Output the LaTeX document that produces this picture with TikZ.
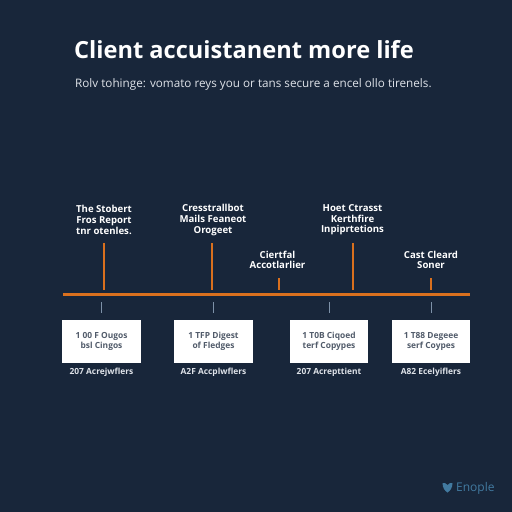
\documentclass[tikz,border=0pt]{standalone}
\usepackage{fontspec}
\setmainfont{Open Sans}
\usepackage{xcolor}
\usetikzlibrary{math}
\definecolor{mybg}{RGB}{24,38,58}
\definecolor{myorange}{RGB}{217,112,30}
\definecolor{mygray}{RGB}{125,145,168}
\definecolor{mytext}{RGB}{222,226,232}
\definecolor{myblue}{RGB}{66,122,160}
\tikzset{
label/.style={text=white,font=\fontsize{9.6}{10.6}\selectfont\bfseries,align=center,inner sep=0},
stem/.style={color=myorange,line width=1.5},
tick/.style={color=mygray,line width=1},
card/.style={fill=white,draw=none,minimum width=78.5,minimum height=43,inner sep=0,align=center,text=mybg!75,font=\fontsize{8.4}{10}\selectfont\bfseries},
caption/.style={text=mytext,font=\fontsize{8.4}{9}\selectfont\bfseries,inner sep=0},
}

\begin{document}
\begin{tikzpicture}[x=1pt,y=-1pt]
\tikzmath{
\W=512;
\Y=294.5;
}
\fill[mybg] (0,0) rectangle (\W,\W);
\useasboundingbox (0,0) rectangle (\W,\W);

\node[anchor=base west,text=white,inner sep=0,font=\fontsize{23.6}{28}\selectfont\bfseries] (title) at (74,58){Client accuistanent more life};
\node[anchor=base west,text=mytext,inner sep=0,font=\fontsize{11.7}{12}\selectfont] (subtitle) at (75,87){Rolv tohinge: vomato reys you or tans secure a encel ollo tirenels.};

\coordinate (start) at (63,\Y);
\coordinate (end) at (470,\Y);
\draw[color=myorange,line width=3] (start) -- (end);

\foreach \name/\x/\top in {a/104/243,b/212/243,c/279/278,d/353/243,e/431/278}{
\coordinate (\name top) at (\x,\top);
\coordinate (\name bot) at (\x,290);
\draw[stem] (\name top) -- (\name bot);
}

\node[label] (la) at (104,220){The Stobert\\Fros Report\\tnr otenles.};
\node[label] (lb) at (213,220){Cresstrallbot\\Mails Feaneot\\Orogeet};
\node[label] (lc) at (277.5,260){Ciertfal\\Accotlarlier};
\node[label] (ld) at (352.5,220){Hoet Ctrasst\\Kerthfire\\Inpiprtetions};
\node[label] (le) at (431,260){Cast Cleard\\Soner};

\foreach \name/\x/\tx/\one/\two/\three in {
a/101.5/101.5/1 00 F Ougos/bsl Cingos/207 Acrejwflers,
b/213.5/213.5/1 TFP Digest/of Fledges/A2F Accplwflers,
c/329/329/1 T0B Ciqoed/terf Copypes/207 Acrepttient,
d/431/431/1 T88 Degeee/serf Coypes/A82 Ecelyiflers}{
\coordinate (t\name a) at (\x,302);
\coordinate (t\name b) at (\x,313);
\draw[tick] (t\name a) -- (t\name b);
\node[card] (card\name) at (\tx,341.5){\one\\\two};
\node[caption] (cap\name) at (\tx,372){\three};
}

\fill[myblue] (442.5,483) .. controls (444.5,482.5) and (446,483.5) .. (447.5,485) .. controls (449,483.5) and (450.5,482.5) .. (452.5,483) .. controls (452.5,488) and (450,491) .. (447.5,492.5) .. controls (445,491) and (442.5,488) .. (442.5,483) -- cycle;
\node[anchor=base west,text=myblue,inner sep=0,font=\fontsize{12}{12}\selectfont] (brand) at (456,491.5){Enople};
\end{tikzpicture}
\end{document}
